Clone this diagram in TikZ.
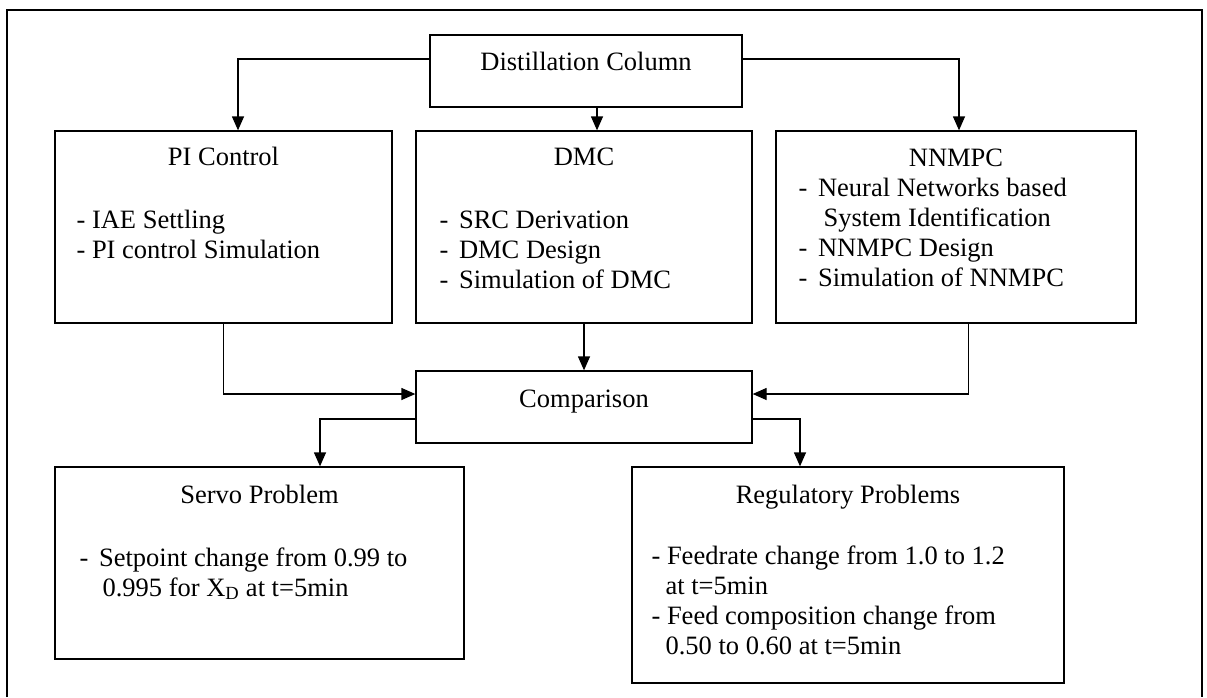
\documentclass[tikz,border=0pt]{standalone}
\usepackage{fontspec}
\setmainfont{Liberation Serif}
\usetikzlibrary{arrows.meta,positioning,calc}

\newcommand{\itm}{\makebox[19.5pt][l]{-}}

\begin{document}
\begin{tikzpicture}[x=1pt,y=-1pt,
  font=\fontsize{26.5}{30}\selectfont,
  box/.style={draw,line width=1.3pt,inner sep=0pt},
  head/.style={anchor=base,inner sep=0pt},
  items/.style={anchor=north west,align=left,inner sep=0pt},
  arr/.style={line width=1.3pt,-{Triangle[length=14pt,width=12pt]}}]
  \useasboundingbox (0,0) rectangle (1207,697);
  \draw[line width=2pt] (7,697) -- (7,10) -- (1202,10) -- (1202,697);

  % boxes
  \node[box,minimum width=312pt,minimum height=72pt] (dist) at (586,71) {};
  \node[box,minimum width=337pt,minimum height=192pt] (pi) at (223.5,227) {};
  \node[box,minimum width=336pt,minimum height=192pt] (dmc) at (584,227) {};
  \node[box,minimum width=360pt,minimum height=192pt] (nn) at (956,227) {};
  \node[box,minimum width=336pt,minimum height=72pt] (cmp) at (584,407) {};
  \node[box,minimum width=409pt,minimum height=192pt] (servo) at (259.5,563) {};
  \node[box,minimum width=432pt,minimum height=216pt] (reg) at (848,575) {};

  % titles
  \node[head] (distlbl) at ([yshift=-36pt]dist.north) {Distillation Column};
  \node[head] (pilbl) at ([yshift=-35pt]pi.north) {PI Control};
  \node[head] (dmclbl) at ([yshift=-35pt]dmc.north) {DMC};
  \node[head] (nnlbl) at ([yshift=-36pt]nn.north) {NNMPC};
  \node[head] (cmplbl) at ([yshift=-37pt]cmp.north) {Comparison};
  \node[head] (servolbl) at ([yshift=-37pt]servo.north) {Servo Problem};
  \node[head] (reglbl) at ([yshift=-37pt]reg.north) {Regulatory Problems};

  % lists
  \node[items] (pitxt) at ([xshift=22pt,yshift=-80pt]pi.north west)
    {- IAE Settling\\- PI control Simulation};
  \node[items] (dmctxt) at ([xshift=24pt,yshift=-80pt]dmc.north west)
    {\itm SRC Derivation\\\itm DMC Design\\\itm Simulation of DMC};
  \node[items] (nntxt) at ([xshift=23pt,yshift=-48pt]nn.north west)
    {\itm Neural Networks based\\\hspace*{25pt}System Identification\\
     \itm NNMPC Design\\\itm Simulation of NNMPC};
  \node[items] (servotxt) at ([xshift=25pt,yshift=-81pt]servo.north west)
    {\itm Setpoint change from 0.99 to\\\hspace*{23pt}0.995 for X\textsubscript{D} at t=5min};
  \node[items] (regtxt) at ([xshift=20pt,yshift=-79pt]reg.north west)
    {- Feedrate change from 1.0 to 1.2\\\hspace*{14pt}at t=5min\\
     - Feed composition change from\\\hspace*{14pt}0.50 to 0.60 at t=5min};

  % connectors
  \draw[arr] ([yshift=12pt]dist.west) -| ([xshift=14.5pt]pi.north);
  \draw[arr] ([xshift=11pt]dist.south) -- ([xshift=11pt]dist.south |- dmc.north);
  \draw[arr] ([yshift=12pt]dist.east) -| ([xshift=3pt]nn.north);
  \draw[arr] (pi.south) |- ([yshift=13pt]cmp.west);
  \draw[arr] (dmc.south) -- (cmp.north);
  \draw[arr] ([xshift=12.5pt]nn.south) |- ([yshift=13pt]cmp.east);
  \draw[arr] ([yshift=-12pt]cmp.west) -| ([xshift=60.5pt]servo.north);
  \draw[arr] ([yshift=-12pt]cmp.east) -| ([xshift=-48pt]reg.north);
\end{tikzpicture}
\end{document}
